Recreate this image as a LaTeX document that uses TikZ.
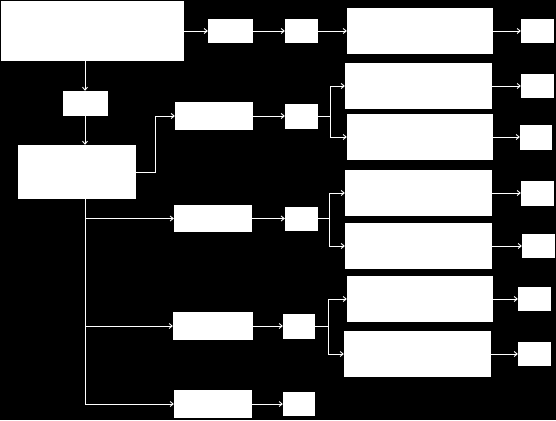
\documentclass[tikz,border=0pt]{standalone}
\usetikzlibrary{arrows.meta}
\begin{document}
\begin{tikzpicture}[x=1pt,y=-1pt,
  box/.style={fill=white,draw=none,inner sep=0pt,minimum width=#1},
  conn/.style={draw=white,line width=0.9pt},
  arr/.style={conn,-{Straight Barb[length=3pt,width=5pt]}}]
\fill[black] (0,0) rectangle (556,420);
\useasboundingbox (0,0) rectangle (556,420);
% boxes
\node[box=183pt,minimum height=60pt] (A) at (92.5,31) {};
\node[box=45pt,minimum height=24pt] (B) at (230.5,31) {};
\node[box=33pt,minimum height=24pt] (C) at (301.5,31) {};
\node[box=146pt,minimum height=46pt] (D) at (420,31) {};
\node[box=33pt,minimum height=24pt] (E) at (537.5,31) {};
\node[box=45pt,minimum height=25pt] (F) at (85,103.5) {};
\node[box=118pt,minimum height=54pt] (G) at (77,172) {};
\node[box=78pt,minimum height=28pt] (H) at (214,116) {};
\node[box=33pt,minimum height=25pt] (I) at (301.5,116) {};
\node[box=147pt,minimum height=46pt] (J) at (418.5,86) {};
\node[box=146pt,minimum height=46pt] (K) at (420,137) {};
\node[box=33pt,minimum height=24pt] (L) at (537.5,86) {};
\node[box=32pt,minimum height=25pt] (M) at (536,137) {};
\node[box=78pt,minimum height=27pt] (N) at (213,218.5) {};
\node[box=33pt,minimum height=24pt] (O) at (301.5,218.5) {};
\node[box=147pt,minimum height=46pt] (P) at (418.5,193) {};
\node[box=147pt,minimum height=46pt] (Q) at (418.5,246) {};
\node[box=33pt,minimum height=25pt] (R) at (537.5,193) {};
\node[box=33pt,minimum height=24pt] (S) at (538.5,246) {};
\node[box=80pt,minimum height=28pt] (T) at (213,326) {};
\node[box=32pt,minimum height=25pt] (U) at (299,326) {};
\node[box=146pt,minimum height=46pt] (V) at (420,299) {};
\node[box=147pt,minimum height=46pt] (W) at (417.5,354) {};
\node[box=33pt,minimum height=24pt] (X) at (534.5,299) {};
\node[box=33pt,minimum height=24pt] (Y) at (534.5,354) {};
\node[box=78pt,minimum height=28pt] (Z) at (213,404) {};
\node[box=32pt,minimum height=24pt] (AA) at (299,404) {};
% branch coordinates
\coordinate (gb) at (155,172);
\coordinate (ib) at (330,116);
\coordinate (ob) at (329,218.5);
\coordinate (ub) at (328,326);
% top row
\draw[arr] (A.east |- B.west) -- (B.west);
\draw[arr] (B.east) -- (C.west);
\draw[arr] (C.east) -- (D.west);
\draw[arr] (D.east) -- (E.west);
% vertical spine
\draw[arr] (F.north |- A.south) -- (F.north);
\draw[arr] (F.south) -- (F.south |- G.north);
\draw[conn] (F.south |- G.south) -- (F.south |- Z.west);
\draw[arr] (F.south |- N.west) -- (N.west);
\draw[arr] (F.south |- T.west) -- (T.west);
\draw[arr] (F.south |- Z.west) -- (Z.west);
% G to H
\draw[arr] (G.east) -- (gb) |- (H.west);
% H row
\draw[arr] (H.east) -- (I.west);
\draw[arr] (I.east) -- (ib) |- (J.west);
\draw[arr] (ib) |- (K.west);
\draw[arr] (J.east) -- (L.west);
\draw[arr] (K.east) -- (M.west);
% N row
\draw[arr] (N.east) -- (O.west);
\draw[arr] (O.east) -- (ob) |- (P.west);
\draw[arr] (ob) |- (Q.west);
\draw[arr] (P.east) -- (R.west);
\draw[arr] (Q.east) -- (S.west);
% T row
\draw[arr] (T.east) -- (U.west);
\draw[arr] (U.east) -- (ub) |- (V.west);
\draw[arr] (ub) |- (W.west);
\draw[arr] (V.east) -- (X.west);
\draw[arr] (W.east) -- (Y.west);
% Z row
\draw[arr] (Z.east) -- (AA.west);
\end{tikzpicture}
\end{document}
